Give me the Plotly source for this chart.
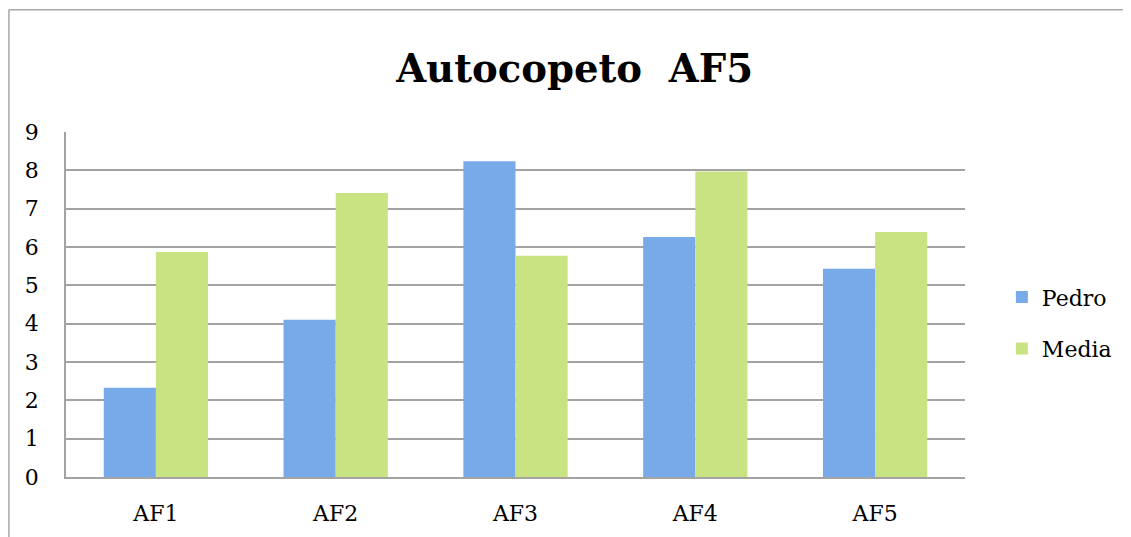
import plotly.graph_objects as go

categories = ["AF1", "AF2", "AF3", "AF4", "AF5"]
pedro = [2.33, 4.10, 8.24, 6.26, 5.43]
media = [5.87, 7.41, 5.77, 7.97, 6.39]
y_ticks = list(range(0, 10))

serif = "DejaVu Serif"
grid = "#a3a3a3"
frame = "#a8a8a8"

fig = go.Figure()
fig.add_trace(go.Bar(x=categories, y=pedro, name="Pedro", legendgroup="p",
                     marker=dict(color="#78a9e9", line=dict(width=0))))
fig.add_trace(go.Bar(x=categories, y=media, name="Media", legendgroup="m",
                     marker=dict(color="#c9e383", line=dict(width=0))))

# page body adds ~8px offset, so margins are shifted to compensate
fig.update_layout(
    width=1131, height=537,
    margin=dict(l=58, r=174, t=124, b=68, autoexpand=False),
    paper_bgcolor="white", plot_bgcolor="white",
    barmode="group", bargap=0.42, bargroupgap=0,
    title=dict(text="<b>Autocopeto  AF5</b>", x=0.501, xanchor="center",
               y=0.888, yanchor="middle",
               font=dict(family=serif, size=38.6, color="black")),
    font=dict(family=serif, size=22, color="black"),
    legend=dict(x=1.041, y=0.446, xanchor="left", yanchor="middle",
                font=dict(size=22), tracegroupgap=20, itemwidth=30),
    shapes=[
        # chart frame: top and left edges only
        dict(type="line", xref="paper", yref="paper", x0=-0.0635, x1=1.25,
             y0=1.354, y1=1.354, line=dict(color=frame, width=1.5)),
        dict(type="line", xref="paper", yref="paper", x0=-0.0635, x1=-0.0635,
             y0=1.354, y1=-0.3, line=dict(color=frame, width=1.5)),
    ],
)
fig.update_yaxes(range=[0, 9], tickvals=y_ticks, showgrid=True, gridcolor=grid,
                 gridwidth=1.5, showline=True, linecolor=grid, linewidth=1.5,
                 ticks="", ticklabelstandoff=21, zeroline=False, automargin=False)
fig.update_xaxes(showline=True, linecolor=grid, linewidth=1.5, ticks="",
                 ticklabelstandoff=16, automargin=False)

fig.write_html("out.html")
